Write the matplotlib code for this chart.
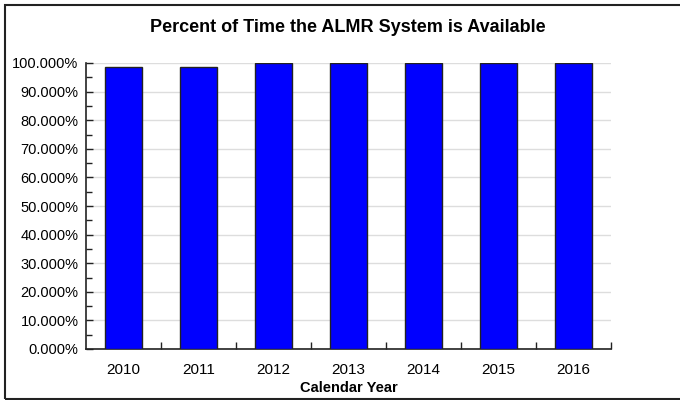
import matplotlib.pyplot as plt
import numpy as np
from matplotlib.patches import Rectangle
from matplotlib.ticker import FuncFormatter, MultipleLocator

# Availability per calendar year (percent)
years = ["2010", "2011", "2012", "2013", "2014", "2015", "2016"]
availability = [98.7, 98.7, 100.0, 100.0, 100.0, 100.0, 100.0]

plt.rcParams["font.family"] = ["Liberation Sans", "DejaVu Sans"]

fig = plt.figure(figsize=(6.8, 4.0), dpi=100)
ax = fig.add_axes([0.1265, 0.1275, 0.772, 0.715])

# outer frame of the picture (right edge falls outside the image)
fig.patches.append(Rectangle((5 / 680, 1.5 / 400), 1.0, 393.5 / 400,
                             transform=fig.transFigure, fill=False,
                             edgecolor="#222222", linewidth=1.5))

x = np.arange(len(years))
ax.bar(x, availability, width=0.5, color="#0000ff",
       edgecolor="#222222", linewidth=1.0, zorder=3)

ax.set_xlim(-0.5, len(years) - 0.5)
ax.set_ylim(0, 100)

# y axis: 10% major, 5% minor, ticks pointing inwards
ax.yaxis.set_major_locator(MultipleLocator(10))
ax.yaxis.set_minor_locator(MultipleLocator(5))
ax.yaxis.set_major_formatter(FuncFormatter(lambda v, p: f"{v:.3f}%"))
ax.tick_params(axis="y", which="major", direction="in", length=5,
               width=1, labelsize=10.5, pad=5.5, color="#222222")
ax.tick_params(axis="y", which="minor", direction="in", length=4,
               width=1, color="#222222")

# x axis: labels at centres, ticks at category boundaries
ax.set_xticks(x)
ax.set_xticklabels(years)
ax.set_xticks(np.arange(len(years)) + 0.5, minor=True)
ax.tick_params(axis="x", which="major", length=0, labelsize=11, pad=10)
ax.tick_params(axis="x", which="minor", direction="in", length=5,
               width=1, color="#222222")

ax.grid(axis="y", color="#dddddd", linewidth=1, zorder=0)
for side in ("top", "right"):
    ax.spines[side].set_visible(False)
for side in ("left", "bottom"):
    ax.spines[side].set_color("#222222")
    ax.spines[side].set_linewidth(1.2)

fig.text(348 / 680, 1 - 27 / 400, "Percent of Time the ALMR System is Available",
         ha="center", va="center", fontsize=13, fontweight="bold")
ax.set_xlabel("Calendar Year", fontsize=10.5, fontweight="bold", labelpad=3)

fig.savefig("out.png", dpi=100)
